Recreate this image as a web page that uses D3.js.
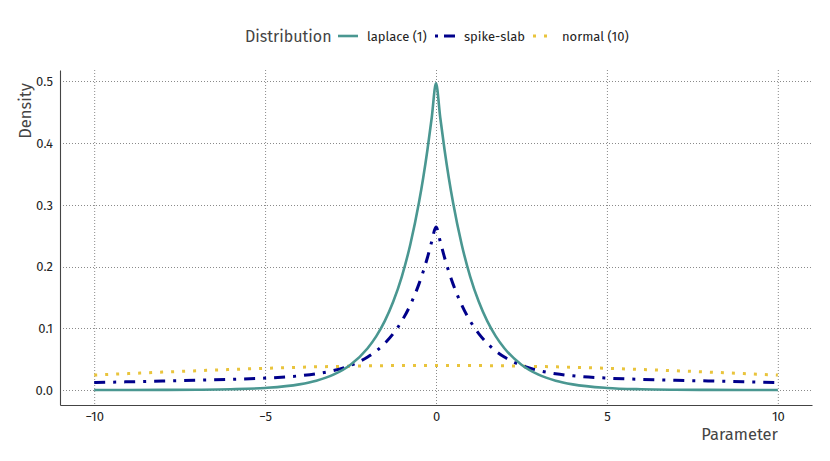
<!DOCTYPE html>
<html>
<head>
<meta charset="utf-8">
<script src="https://cdn.jsdelivr.net/npm/d3@7"></script>
<style>
  body { margin: 0; background: #fff; }
  text { font-family: "Fira Sans", Lato, "Open Sans", sans-serif; }
</style>
</head>
<body>
<div id="chart"></div>
<script>
"use strict";

const width = 830,
      height = 461;

// parameter grid and densities
const params = [-10, -9, -8, -7, -6, -5, -4, -3.5, -3, -2.5, -2, -1.75, -1.5, -1.25, -1, -0.75, -0.5, -0.375, -0.25, -0.125,
  0, 0.125, 0.25, 0.375, 0.5, 0.75, 1, 1.25, 1.5, 1.75, 2, 2.5, 3, 3.5, 4, 5, 6, 7, 8, 9, 10];

const laplace = [0.00002, 0.00006, 0.00017, 0.00046, 0.00124, 0.00337, 0.00916, 0.0151, 0.0249, 0.0410, 0.0677, 0.0869, 0.1116, 0.1433, 0.1839, 0.2362, 0.3033, 0.3436, 0.3894, 0.4412,
  0.497, 0.4412, 0.3894, 0.3436, 0.3033, 0.2362, 0.1839, 0.1433, 0.1116, 0.0869, 0.0677, 0.0410, 0.0249, 0.0151, 0.00916, 0.00337, 0.00124, 0.00046, 0.00017, 0.00006, 0.00002];

const spikeSlab = [0.0121, 0.0133, 0.0146, 0.0158, 0.0173, 0.0193, 0.0230, 0.0264, 0.0315, 0.0399, 0.0534, 0.0631, 0.0756, 0.0915, 0.1118, 0.1380, 0.1716, 0.1918, 0.2147, 0.2406,
  0.264, 0.2406, 0.2147, 0.1918, 0.1716, 0.1380, 0.1118, 0.0915, 0.0756, 0.0631, 0.0534, 0.0399, 0.0315, 0.0264, 0.0230, 0.0193, 0.0173, 0.0158, 0.0146, 0.0133, 0.0121];

const normal = [0.0242, 0.0266, 0.0290, 0.0312, 0.0333, 0.0352, 0.0368, 0.0376, 0.0381, 0.0387, 0.0391, 0.0393, 0.0395, 0.0396, 0.0397, 0.0398, 0.0399, 0.0399, 0.0399, 0.0399,
  0.0399, 0.0399, 0.0399, 0.0399, 0.0399, 0.0398, 0.0397, 0.0396, 0.0395, 0.0393, 0.0391, 0.0387, 0.0381, 0.0376, 0.0368, 0.0352, 0.0333, 0.0312, 0.0290, 0.0266, 0.0242];

const seriesNames = ["laplace (1)", "spike-slab", "normal (10)"];
const xTicks = [-10, -5, 0, 5, 10];
const yTicks = [0, 0.1, 0.2, 0.3, 0.4, 0.5];

const styles = [
  { color: "#4a9791", dash: null, w: 2.6 },
  { color: "#00008b", dash: "11,8,3,8", w: 3 },
  { color: "#e9c43c", dash: "3,8", w: 3 }
];

const series = [laplace, spikeSlab, normal].map((vals, i) => ({
  name: seriesNames[i],
  style: styles[i],
  points: params.map((p, j) => [p, vals[j]])
}));

const x = d3.scaleLinear().domain([-11, 11]).range([60, 812]);
const y = d3.scaleLinear().domain([-0.0243, 0.5186]).range([405, 70]);

const svg = d3.select("#chart")
  .append("svg")
  .attr("width", width)
  .attr("height", height);

// grid
const grid = svg.append("g")
  .attr("stroke", "#8a8a8a")
  .attr("stroke-width", 1)
  .attr("stroke-dasharray", "1,2");

grid.selectAll("line.vx")
  .data(xTicks)
  .join("line")
    .attr("class", "vx")
    .attr("x1", d => x(d) + 0.5).attr("x2", d => x(d) + 0.5)
    .attr("y1", y.range()[1]).attr("y2", y.range()[0]);

grid.selectAll("line.hy")
  .data(yTicks)
  .join("line")
    .attr("class", "hy")
    .attr("x1", x.range()[0]).attr("x2", x.range()[1])
    .attr("y1", d => Math.round(y(d)) + 0.5).attr("y2", d => Math.round(y(d)) + 0.5);

// axes
const xAxis = svg.append("g")
  .attr("transform", `translate(0,${y.range()[0]})`)
  .call(d3.axisBottom(x).tickValues(xTicks).tickSize(0).tickPadding(7).tickFormat(d3.format("d")));

const yAxis = svg.append("g")
  .attr("transform", `translate(${x.range()[0]},0)`)
  .call(d3.axisLeft(y).tickValues(yTicks).tickSize(0).tickPadding(7).tickFormat(d3.format(".1f")));

[xAxis, yAxis].forEach(a => {
  a.select(".domain").attr("stroke", "#444").attr("stroke-width", 1.1);
  a.selectAll("text").attr("fill", "#222").style("font-size", "13px");
});

// lines
const line = d3.line()
  .x(d => x(d[0]))
  .y(d => y(d[1]))
  .curve(d3.curveMonotoneX);

svg.append("g")
  .selectAll("path")
  .data(series.slice().reverse())
  .join("path")
    .attr("d", d => line(d.points))
    .attr("fill", "none")
    .attr("stroke", d => d.style.color)
    .attr("stroke-width", d => d.style.w)
    .attr("stroke-dasharray", d => d.style.dash);

// axis titles
svg.append("text")
  .attr("transform", "translate(31,111) rotate(-90)")
  .attr("text-anchor", "middle")
  .attr("fill", "#444")
  .style("font-size", "16.5px")
  .text("Density");

svg.append("text")
  .attr("x", 778)
  .attr("y", 440)
  .attr("text-anchor", "end")
  .attr("fill", "#444")
  .style("font-size", "16.5px")
  .text("Parameter");

// legend
const legend = svg.append("g");

legend.append("text")
  .attr("x", 245)
  .attr("y", 42)
  .attr("fill", "#444")
  .style("font-size", "16px")
  .text("Distribution");

const legendX = [338, 435, 533];

const items = legend.selectAll("g.item")
  .data(series)
  .join("g")
    .attr("class", "item")
    .attr("transform", (d, i) => `translate(${legendX[i]},36)`);

items.append("line")
  .attr("x1", 0).attr("x2", 20)
  .attr("stroke", d => d.style.color)
  .attr("stroke-width", d => d.style.w)
  .attr("stroke-dasharray", (d, i) => i === 1 ? "3,6,11,0" : d.style.dash);

items.append("text")
  .attr("x", 29)
  .attr("y", 5)
  .attr("fill", "#222")
  .style("font-size", "13px")
  .text(d => d.name);
</script>
</body>
</html>
